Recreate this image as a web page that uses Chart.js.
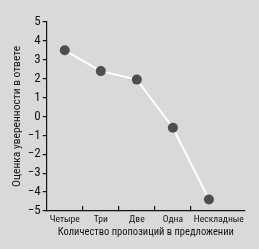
<!DOCTYPE html>
<html>
<head>
<meta charset="utf-8">
<script src="https://cdn.jsdelivr.net/npm/chart.js@4/dist/chart.umd.min.js"></script>
<style>
html,body{margin:0;padding:0;background:#d9d9d9;}
canvas{display:block;}
</style>
</head>
<body>
<canvas id="c" width="259" height="249"></canvas>
<script>
const categories = ['Четыре', 'Три', 'Две', 'Одна', '         Нескладные'];
const confidence = [3.5, 2.4, 1.95, -0.6, -4.4];
const yTicks = [-5, -4, -3, -2, -1, 0, 1, 2, 3, 4, 5];
const xTitle = 'Количество пропозиций в предложении';
const yTitle = 'Оценка уверенности в ответе';

const FONT = "'Roboto Condensed', 'Open Sans Condensed', sans-serif";
const TXT = '#141414';

new Chart(document.getElementById('c'), {
  type: 'line',
  data: {
    datasets: [{
      data: confidence.map((v, i) => ({x: i, y: v})),
      borderColor: '#ffffff',
      borderWidth: 2,
      pointRadius: 5,
      pointBackgroundColor: '#4e4e4e',
      pointBorderColor: '#4e4e4e',
      pointBorderWidth: 0,
      tension: 0
    }]
  },
  options: {
    responsive: false,
    animation: false,
    events: [],
    layout: {padding: {top: 22, right: 14, left: 10, bottom: 10}},
    plugins: {legend: {display: false}, tooltip: {enabled: false}},
    scales: {
      x: {
        type: 'linear',
        min: -0.5,
        max: 5.0,
        afterBuildTicks: (s) => {
          const t = [];
          for (let i = 0; i < categories.length; i++) {
            t.push({value: i});
            if (i < categories.length - 1) t.push({value: i + 0.5});
          }
          s.ticks = t;
        },
        border: {display: true, color: TXT, width: 1.2},
        grid: {
          drawOnChartArea: false,
          drawTicks: true,
          tickLength: -5,
          lineWidth: 1.2,
          color: (ctx) => (ctx.tick && Number.isInteger(ctx.tick.value)) ? 'rgba(0,0,0,0)' : TXT
        },
        ticks: {
          autoSkip: false,
          maxRotation: 0,
          padding: 8,
          color: TXT,
          font: {family: FONT, size: 9.6},
          callback: (v) => Number.isInteger(v) ? categories[v] : ''
        },
        title: {
          display: true,
          text: xTitle,
          color: TXT,
          font: {family: FONT, size: 10.5},
          padding: {top: -7, bottom: 0}
        }
      },
      y: {
        min: -5,
        max: 5,
        afterBuildTicks: (s) => { s.ticks = yTicks.map(v => ({value: v})); },
        border: {display: true, color: TXT, width: 1.2},
        grid: {
          drawOnChartArea: false,
          drawTicks: true,
          tickLength: 4,
          lineWidth: 1.2,
          color: TXT
        },
        ticks: {
          autoSkip: false,
          padding: 2,
          color: TXT,
          font: {family: FONT, size: 13},
          callback: (v) => String(v).replace('-', '\u2212')
        },
        title: {
          display: true,
          text: yTitle,
          color: TXT,
          font: {family: FONT, size: 11.5},
          padding: {top: 0, bottom: 2}
        }
      }
    }
  }
});
</script>
</body>
</html>
